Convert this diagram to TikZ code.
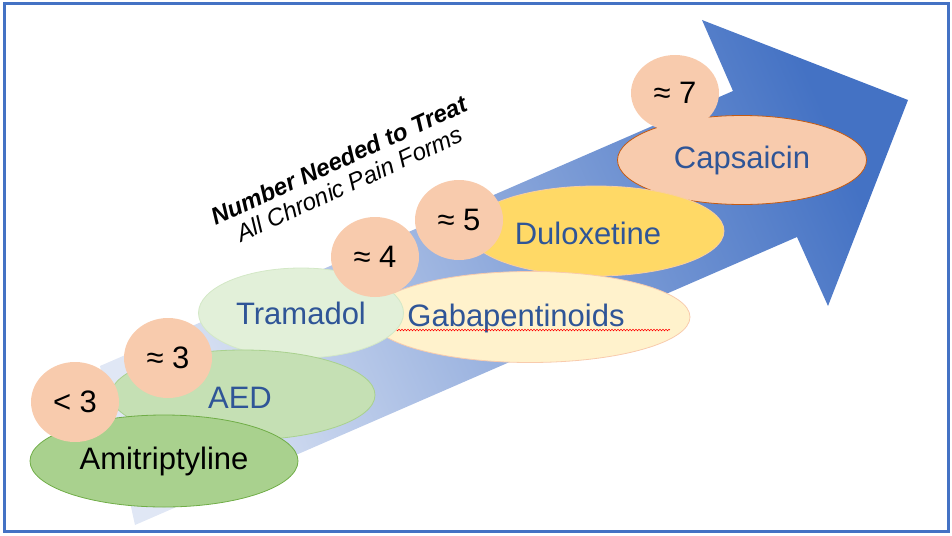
\documentclass[tikz,border=0pt]{standalone}
\usepackage{fontspec}
\setmainfont{Liberation Sans}
\usepackage{xcolor}
\definecolor{nntblue}{RGB}{68,114,196}
\definecolor{nntpale}{RGB}{224,231,245}
\definecolor{nntmid}{RGB}{143,170,220}
\definecolor{nnttext}{RGB}{47,85,151}
\definecolor{nntpeach}{RGB}{248,203,173}
\definecolor{amigreen}{RGB}{169,209,142}
\definecolor{amiedge}{RGB}{112,173,71}
\definecolor{aedgreen}{RGB}{197,224,180}
\definecolor{tramgreen}{RGB}{226,240,217}
\definecolor{gabayellow}{RGB}{255,242,204}
\definecolor{duloyellow}{RGB}{255,217,102}
\definecolor{capsedge}{RGB}{197,90,17}
\usetikzlibrary{shapes.geometric, decorations.pathmorphing}

\begin{document}
\begin{tikzpicture}[x=1pt, y=-1pt,
  drug/.style={ellipse, inner sep=0pt, line width=0.8pt, text=nnttext,
               font=\fontsize{31}{31}\selectfont},
  nnt/.style={ellipse, fill=nntpeach, inner sep=0pt, minimum width=88pt,
              minimum height=80pt, font=\fontsize{31}{31}\selectfont}]

\useasboundingbox (0,0) rectangle (952,535);

% Frame
\draw[nntblue, line width=3pt] (4,4) rectangle (948,531);

% Big arrow
\shade[left color=nntpale, right color=nntblue, middle color=nntmid, shading angle=113.5]
  (135,525) -- (100,366) -- (733,91) -- (702,20) -- (908,100) -- (828,306) -- (797,237) -- cycle;

% Title
\node[rotate=24.5, align=center, font=\fontsize{24}{26}\selectfont\itshape] (title) at (344,172)
  {\textbf{Number Needed to Treat}\\All Chronic Pain Forms};

% Drug ellipses (back to front)
\node[drug, fill=nntpeach, draw=capsedge, minimum width=249pt, minimum height=89pt] (caps) at (742,160) {Capsaicin};

\node[drug, fill=duloyellow, draw=nntpeach!80!duloyellow, minimum width=256pt, minimum height=90pt] (dulo) at (596,231) {};
\node[drug] (dulotext) at (588,233) {Duloxetine};

\node[drug, fill=gabayellow, draw=nntpeach, minimum width=320pt, minimum height=91pt] (gaba) at (530,317) {};
\node[drug] (gabatext) at (516,318) {Gabapentinoids};
\draw[red, line width=0.6pt, decorate, decoration={snake, amplitude=0.8pt, segment length=3pt}]
  ([yshift=-4pt]gabatext.base west) -- ([yshift=-4pt]gabatext.base east);

\node[drug, fill=tramgreen, draw=aedgreen!50!tramgreen, minimum width=205pt, minimum height=90pt] (tram) at (301,313) {Tramadol};

\node[drug, fill=aedgreen, draw=amigreen, minimum width=264pt, minimum height=90pt] (aed) at (243,395) {};
\node[drug] (aedtext) at (240,398) {AED};

\node[drug, fill=amigreen, draw=amiedge, text=black, minimum width=268pt, minimum height=92pt] (ami) at (164,461) {Amitriptyline};

% NNT bubbles
\node[nnt] (lt3) at (75,402) {< 3};
\node[nnt] (ap3) at (168,358) {≈ 3};
\node[nnt] (ap4) at (375,257) {≈ 4};
\node[nnt] (ap5) at (459,220) {≈ 5};
\node[nnt, minimum height=76pt] (ap7) at (675,93) {≈ 7};

\end{tikzpicture}
\end{document}
